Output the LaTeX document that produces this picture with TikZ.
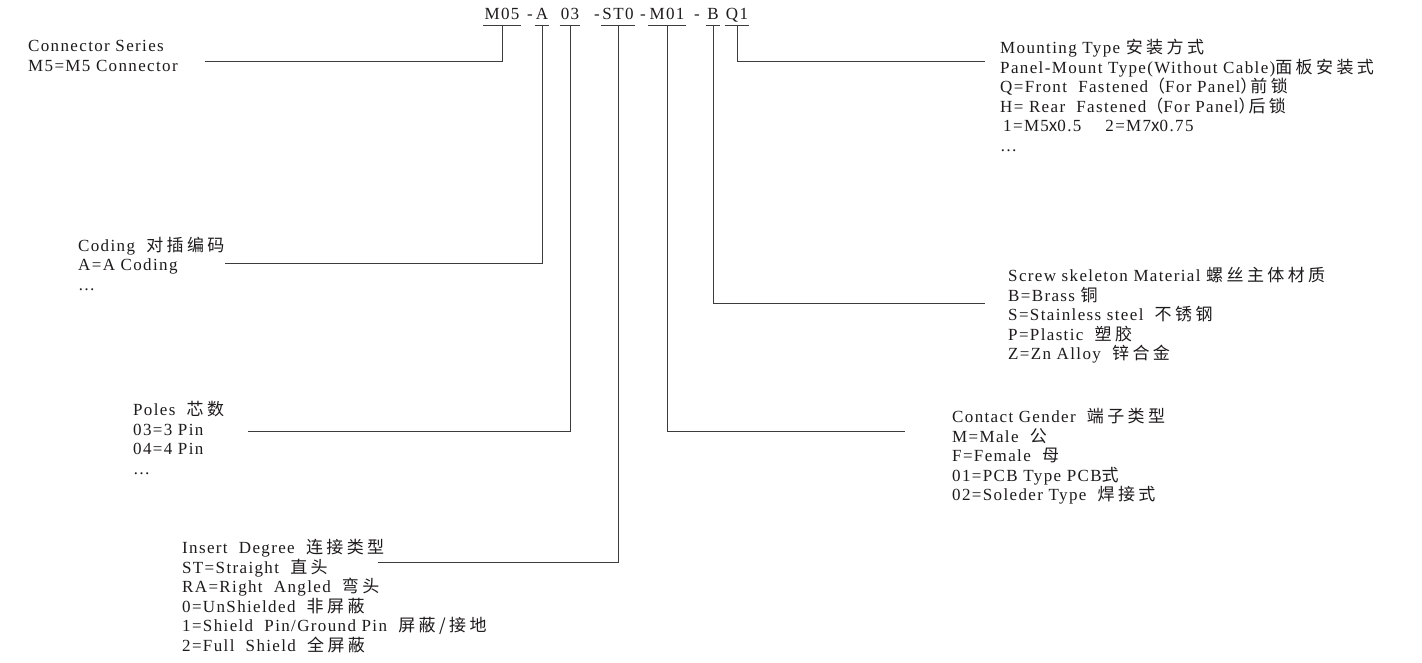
\documentclass[tikz,border=0pt]{standalone}
\usepackage{fontspec}
\setmainfont[LetterSpace=8]{Liberation Serif}
\newfontfamily\cjk[LetterSpace=20]{Noto Sans CJK SC}
\newcommand{\zh}[1]{{\cjk #1}}
\definecolor{ink}{RGB}{30,27,28}
\definecolor{wire}{RGB}{60,60,60}
\tikzset{
  code/.style={anchor=base, inner xsep=1pt, inner ysep=6pt, text depth=0pt,
    font=\fontsize{17}{19}\selectfont, text=ink},
  spec/.style={anchor=north west, inner sep=0pt, align=left,
    font=\fontsize{17}{19.6}\selectfont, text=ink},
  lead/.style={wire, line width=0.9pt},
  uline/.style={wire, line width=0.8pt},
}
\begin{document}
\begin{tikzpicture}[x=1pt,y=-1pt]
  \useasboundingbox[fill=white] (0,0) rectangle (1422,662);
  % ordering code
  \node[code] (cM05) at (502,19) {M05};
  \node[code] (d1)   at (530,19) {-};
  \node[code] (cA)   at (542,19) {A};
  \node[code] (c03)  at (570,19) {03};
  \node[code] (d2)   at (597,19) {-};
  \node[code] (cST)  at (618,19) {ST0};
  \node[code] (d3)   at (643,19) {-};
  \node[code] (cM01) at (667,19) {M01};
  \node[code] (d4)   at (697,19) {-};
  \node[code] (cB)   at (713,19) {B};
  \node[code] (cQ1)  at (737,19) {Q1};
  \foreach \c in {cM05,cA,c03,cST,cM01,cB,cQ1}
    \draw[uline] (\c.south west) -- (\c.south east);

  % descriptions
  \node[spec] (series) at (28,40.5) {Connector Series\\M5=M5 Connector};
  \node[spec] (mount) at (1000,39) {Mounting Type \zh{安装方式}\\
    Panel-Mount Type(Without Cable)\zh{面板安装式}\\
    Q=Front\ \ Fastened\zh{（}For Panel\zh{）}\hspace{-7pt}\zh{前锁}\\
    H= Rear\ \ Fastened\zh{（}For Panel\zh{）}\hspace{-7pt}\zh{后锁}\\
    \hspace{3pt}1=M5\zh{x}0.5\hspace{24pt}2=M7\zh{x}0.75\\
    \ldots};
  \node[spec] (coding) at (78,236.5) {Coding\ \ \zh{对插编码}\\A=A Coding\\\ldots};
  \node[spec] (screw) at (1008,267) {Screw skeleton Material \zh{螺丝主体材质}\\
    B=Brass \zh{铜}\\
    S=Stainless steel\ \ \zh{不锈钢}\\
    P=Plastic\ \ \zh{塑胶}\\
    Z=Zn Alloy\ \ \zh{锌合金}};
  \node[spec] (poles) at (133,401) {Poles\ \ \zh{芯数}\\03=3 Pin\\04=4 Pin\\\ldots};
  \node[spec] (gender) at (952,408) {Contact Gender\ \ \zh{端子类型}\\
    M=Male\ \ \zh{公}\\
    F=Female\ \ \zh{母}\\
    01=PCB Type PCB\zh{式}\\
    02=Soleder Type\ \ \zh{焊接式}};
  \node[spec] (insert) at (182,539) {Insert\ \ Degree\ \ \zh{连接类型}\\
    ST=Straight\ \ \zh{直头}\\
    RA=Right\ \ Angled\ \ \zh{弯头}\\
    0=UnShielded\ \ \zh{非屏蔽}\\
    1=Shield\ \ Pin/Ground Pin\ \ \zh{屏蔽/接地}\\
    2=Full\ \ Shield\ \ \zh{全屏蔽}};

  % leader ends
  \coordinate (eSeries) at (205,61);
  \coordinate (eMount)  at (985,61);
  \coordinate (eCoding) at (225,263);
  \coordinate (eScrew)  at (985,303);
  \coordinate (ePoles)  at (248,431);
  \coordinate (eGender) at (905,431);
  \coordinate (eInsert) at (378,562);

  % leaders
  \draw[lead] (cM05.south) |- (eSeries);
  \draw[lead] (cA.south)   |- (eCoding);
  \draw[lead] (c03.south)  |- (ePoles);
  \draw[lead] (cST.south)  |- (eInsert);
  \draw[lead] (cM01.south) |- (eGender);
  \draw[lead] (cB.south)   |- (eScrew);
  \draw[lead] (cQ1.south)  |- (eMount);
\end{tikzpicture}
\end{document}
